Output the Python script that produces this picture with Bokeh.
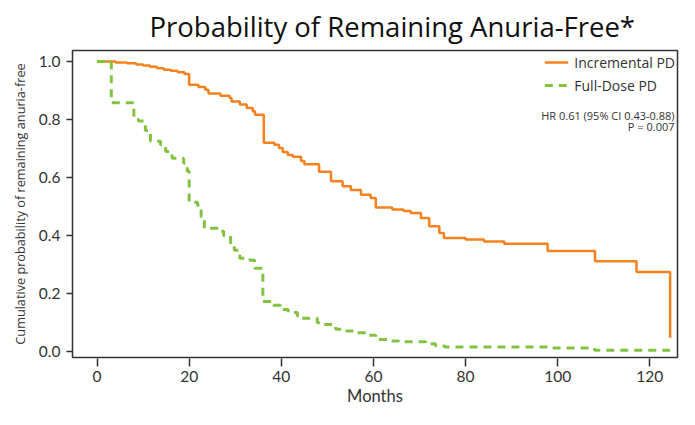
from bokeh.plotting import figure
from bokeh.models import (Range1d, FixedTicker, PrintfTickFormatter, Legend,
                          LegendItem, Label, Title)
from bokeh.embed import file_html
from bokeh.resources import INLINE

# ---------------- data ----------------
inc_months = [0, 4.0, 6.5, 8.5, 10.0, 11.5, 13.0, 14.5, 16.0, 17.5, 19.0, 20.0,
              22.0, 23.5, 24.2, 26.8, 28.8, 29.2, 31.0, 32.5, 33.8, 34.3, 36.2,
              38.5, 39.5, 40.3, 41.4, 42.5, 44.3, 45.0, 48.2, 50.8, 53.3, 55.1,
              57.3, 59.4, 60.5, 64.1, 66.5, 68.1, 70.3, 72.1, 74.3, 75.3, 80.0,
              84.0, 88.4, 97.8, 108.1, 117.1, 124.4]
inc_surv = [1.0, 0.997, 0.994, 0.99, 0.986, 0.982, 0.977, 0.972, 0.968, 0.963,
            0.957, 0.92, 0.912, 0.903, 0.89, 0.882, 0.874, 0.862, 0.852, 0.84,
            0.829, 0.817, 0.72, 0.713, 0.702, 0.688, 0.678, 0.672, 0.657, 0.646,
            0.62, 0.587, 0.57, 0.557, 0.541, 0.53, 0.497, 0.49, 0.485, 0.478,
            0.461, 0.432, 0.409, 0.392, 0.387, 0.38, 0.372, 0.347, 0.312, 0.275,
            0.048]

full_months = [0, 3.1, 8.0, 9.0, 10.5, 11.6, 13.8, 14.9, 16.3, 18.8, 19.6, 20.0,
               21.8, 22.6, 23.3, 26.8, 27.5, 29.0, 29.8, 31.0, 33.2, 34.2, 36.0,
               38.3, 39.8, 41.5, 43.5, 44.5, 47.8, 49.5, 51.8, 53.5, 56.5, 58.7,
               60.5, 63.5, 65.5, 71.3, 73.5, 75.5, 98.0, 108.0, 124.4]
full_surv = [1.0, 0.858, 0.80, 0.795, 0.762, 0.725, 0.713, 0.69, 0.667, 0.65,
             0.622, 0.515, 0.505, 0.465, 0.425, 0.415, 0.40, 0.37, 0.35, 0.322,
             0.315, 0.288, 0.173, 0.16, 0.145, 0.135, 0.123, 0.115, 0.10, 0.094,
             0.077, 0.071, 0.065, 0.057, 0.042, 0.037, 0.034, 0.027, 0.02, 0.016,
             0.013, 0.005, 0.005]

x_ticks = [0, 20, 40, 60, 80, 100, 120]
y_ticks = [0.0, 0.2, 0.4, 0.6, 0.8, 1.0]

title_text = "Probability of Remaining Anuria-Free*"
y_label = "Cumulative probability of remaining anuria-free"
x_label = "Months"
series_names = ["Incremental PD", "Full-Dose PD"]
hr_lines = ["HR 0.61 (95% CI 0.43-0.88)", "P = 0.007"]

# ---------------- styling ----------------
FONT = "Open Sans"
FONT2 = "Lato"
ORANGE = "#f5821f"
GREEN = "#82c341"
DARK = "#333333"

X0, X1 = -5.32, 126.0
Y0, Y1 = -0.02, 1.038

p = figure(width=679, height=409, output_backend="svg", toolbar_location=None,
           x_range=Range1d(X0, X1), y_range=Range1d(Y0, Y1),
           min_border_left=72, min_border_right=2, min_border_top=49,
           min_border_bottom=52)
p.background_fill_color = "white"
p.border_fill_color = "white"
p.outline_line_color = DARK
p.outline_line_width = 1.5
p.outline_line_alpha = 1.0
p.grid.visible = False

r_inc = p.step(inc_months, inc_surv, mode="after", line_color=ORANGE, line_width=2.5)
r_full = p.step(full_months, full_surv, mode="after", line_color=GREEN, line_width=3,
                line_dash="8 6")

# axes
xa = p.xaxis[0]
xa.ticker = FixedTicker(ticks=x_ticks)
xa.axis_line_color = None
xa.major_tick_in = -1
xa.major_tick_out = 9
xa.major_tick_line_color = DARK
xa.major_tick_line_width = 1.5
xa.minor_tick_line_color = None
xa.major_label_text_font = FONT2
xa.major_label_text_font_size = "15.5px"
xa.major_label_text_color = DARK
xa.major_label_standoff = 4
xa.axis_label = x_label
xa.axis_label_text_font = FONT2
xa.axis_label_text_font_size = "16.5px"
xa.axis_label_text_font_style = "normal"
xa.axis_label_text_color = DARK
xa.axis_label_standoff = 1

ya = p.yaxis[0]
ya.ticker = FixedTicker(ticks=y_ticks)
ya.formatter = PrintfTickFormatter(format="%.1f")
ya.axis_line_color = None
ya.major_tick_in = 0
ya.major_tick_out = 6
ya.major_tick_line_color = DARK
ya.major_tick_line_width = 1.5
ya.minor_tick_line_color = None
ya.major_label_text_font = FONT2
ya.major_label_text_font_size = "15.5px"
ya.major_label_text_color = DARK
ya.major_label_standoff = 6
ya.axis_label = y_label
ya.axis_label_text_font = FONT
ya.axis_label_text_font_size = "12.7px"
ya.axis_label_text_font_style = "normal"
ya.axis_label_text_color = DARK
ya.axis_label_standoff = 7

# title
p.add_layout(Title(text=title_text, align="left", offset=77, text_font=FONT,
                   text_font_size="27.5px", text_font_style="normal",
                   text_color="#111111", standoff=11), "above")

# legend
legend = Legend(items=[LegendItem(label=series_names[0], renderers=[r_inc]),
                       LegendItem(label=series_names[1], renderers=[r_full])],
                location="top_right", background_fill_alpha=0,
                border_line_color=None, label_text_font=FONT,
                label_text_font_size="14px", label_text_color=DARK,
                glyph_width=24, glyph_height=20, label_height=20,
                label_standoff=6, spacing=3, padding=6, margin=2)
p.add_layout(legend)

p.add_layout(Label(x=X1, y=0.814, x_offset=-3, text=hr_lines[0], text_align="right",
                   text_baseline="middle", text_font=FONT, text_font_size="11px",
                   text_color=DARK))
p.add_layout(Label(x=X1, y=0.776, x_offset=-3, text=hr_lines[1], text_align="right",
                   text_baseline="middle", text_font=FONT, text_font_size="11px",
                   text_color=DARK))

open("out.html", "w").write(file_html(p, INLINE))
